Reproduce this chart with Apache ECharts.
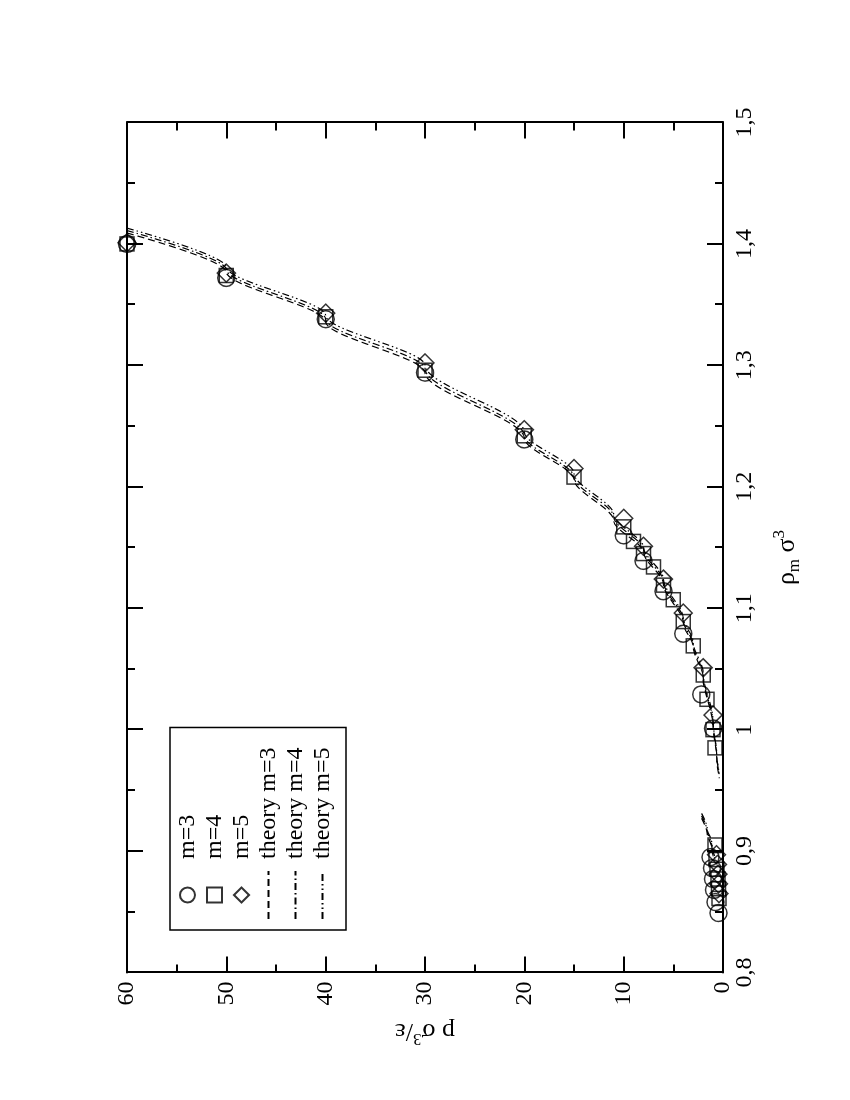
<!DOCTYPE html>
<html><head><meta charset="utf-8">
<script src="https://cdn.jsdelivr.net/npm/echarts@6.0.0/dist/echarts.min.js"></script>
<style>
html,body{margin:0;padding:0;background:#fff;width:850px;height:1100px;overflow:hidden;}
#chart{position:absolute;left:-125px;top:125px;width:1100px;height:850px;transform:rotate(-90deg);}
</style></head><body><div id="chart"></div>
<script>
// ---- data (x: rho_m sigma^3, y: p sigma^3/epsilon) ----
const xTickLabels = ['0,8','0,9','1','1,1','1,2','1,3','1,4','1,5'];
const yTickLabels = ['0','10','20','30','40','50','60'];

const pM3   = [60, 50, 40, 30, 20, 10, 8, 6, 4, 2.2, 1.0, 1.25, 1.1, 1.0, 0.9, 0.75, 0.45];
const rhoM3 = [1.400, 1.372, 1.338, 1.294, 1.239, 1.160, 1.139, 1.114, 1.079, 1.029, 1.001, 0.895, 0.886, 0.877, 0.868, 0.858, 0.849];

const pM4   = [60, 50, 40, 30, 20, 15, 10, 9, 8, 7, 6, 5, 4, 3, 2, 1.6, 1.0, 0.8, 0.8, 0.7, 0.6, 0.5, 0.45, 0.4];
const rhoM4 = [1.400, 1.374, 1.340, 1.296, 1.242, 1.208, 1.167, 1.155, 1.145, 1.134, 1.119, 1.107, 1.089, 1.069, 1.045, 1.025, 1.000, 0.985, 0.905, 0.893, 0.885, 0.877, 0.869, 0.861];

const pM5   = [60, 50, 40, 30, 20, 15, 10, 8, 6, 4, 2, 1.0, 0.65, 0.55, 0.5, 0.45, 0.4];
const rhoM5 = [1.401, 1.376, 1.343, 1.302, 1.247, 1.215, 1.174, 1.151, 1.124, 1.096, 1.051, 1.012, 0.897, 0.889, 0.881, 0.873, 0.865];

const theoryP    = [60, 50, 40, 30, 20, 15, 11, 8, 6, 4, 3, 2, 1, 0.63, 0.37];
const theoryRho3 = [1.409, 1.377, 1.336, 1.294, 1.240, 1.206, 1.172, 1.146, 1.120, 1.088, 1.068, 1.043, 1.003, 0.976, 0.960];
const theoryRho4 = [1.411, 1.379, 1.338, 1.297, 1.242, 1.208, 1.175, 1.148, 1.122, 1.090, 1.070, 1.045, 1.005, 0.978, 0.962];
const theoryRho5 = [1.413, 1.381, 1.341, 1.300, 1.245, 1.211, 1.177, 1.150, 1.124, 1.092, 1.072, 1.047, 1.007, 0.980, 0.963];

const theoryLowP    = [2.15, 1.6, 1.15, 0.85];
const theoryLowRho3 = [0.927, 0.915, 0.903, 0.892];
const theoryLowRho4 = [0.929, 0.917, 0.905, 0.894];
const theoryLowRho5 = [0.931, 0.919, 0.907, 0.896];

// ---- chart ----
const FONT = "'Liberation Serif', 'Times New Roman', Times, serif";
const pairs = (xs, ys) => xs.map((x, i) => [x, ys[i]]);

const SQUARE = 'path://M0,0L10,0L10,10L0,10Z';
const DIAMOND = 'path://M5,0L10,5L5,10L0,5Z';

const markerStyle = {color: 'transparent', borderColor: '#000', borderWidth: 1.5};
function scatter(name, sym, size, rho, p) {
  return {type: 'scatter', name, symbol: sym, symbolSize: size, symbolKeepAspect: true,
          itemStyle: markerStyle, data: pairs(rho, p), z: 3};
}
function theory(name, dash, rho, p) {
  return {type: 'line', name, symbol: 'none', smooth: 0.3, smoothMonotone: 'x',
          itemStyle: {color: 'transparent', borderColor: 'transparent'},
          lineStyle: {color: '#000', width: 1.2, type: dash}, data: pairs(rho, p), z: 2};
}

const dash3 = [7, 4];
const dash4 = [7, 3, 1.5, 3];
const dash5 = [7, 3, 1.5, 3, 1.5, 3];

const tick = {inside: true, length: 16, lineStyle: {color: '#000', width: 2}};
const minor = {show: true, splitNumber: 2, length: 8, lineStyle: {color: '#000', width: 2}};
const line = {show: true, onZero: false, lineStyle: {color: '#000', width: 2}};

const richName = {
  a: {fontFamily: FONT, fontSize: 26, color: '#000', lineHeight: 32},
  sub: {fontFamily: FONT, fontSize: 17, color: '#000', lineHeight: 17, verticalAlign: 'bottom'},
  sup: {fontFamily: FONT, fontSize: 17, color: '#000', lineHeight: 17, verticalAlign: 'top'}
};

const chart = echarts.init(document.getElementById('chart'), null, {width: 1100, height: 850});
chart.setOption({
  animation: false,
  backgroundColor: '#fff',
  grid: {left: 127.5, right: 122.5, top: 127, bottom: 127, containLabel: false},
  xAxis: [
    {type: 'value', min: 0.8, max: 1.5, interval: 0.1, position: 'bottom',
     axisLine: line, axisTick: tick, minorTick: minor, splitLine: {show: false},
     axisLabel: {fontFamily: FONT, fontSize: 24, color: '#000', margin: 10,
                 formatter: v => xTickLabels[Math.round((v - 0.8) / 0.1)]},
     name: '{a|ρ}{sub|m}{a| σ}{sup|3}', nameLocation: 'middle', nameGap: 48,
     nameTextStyle: {rich: richName, padding: [0, 20, 0, 0]}},
    {type: 'value', min: 0.8, max: 1.5, interval: 0.1, position: 'top',
     axisLine: line, axisTick: tick, minorTick: minor, splitLine: {show: false},
     axisLabel: {show: false}}
  ],
  yAxis: [
    {type: 'value', min: 0, max: 60, interval: 10, position: 'left',
     axisLine: line, axisTick: tick, minorTick: minor, splitLine: {show: false},
     axisLabel: {fontFamily: FONT, fontSize: 24, color: '#000', margin: 9,
                 formatter: v => yTickLabels[Math.round(v / 10)]},
     name: '{a|p σ}{sup|3}{a|/ε}', nameLocation: 'middle', nameRotate: 90, nameGap: 42,
     nameTextStyle: {rich: richName}},
    {type: 'value', min: 0, max: 60, interval: 10, position: 'right',
     axisLine: line, axisTick: tick, minorTick: minor, splitLine: {show: false},
     axisLabel: {show: false}}
  ],
  legend: {
    orient: 'vertical', left: 170, top: 170,
    itemWidth: 48, itemHeight: 15, itemGap: 0, symbolKeepAspect: true,
    padding: [4, 20, 10, 10],
    borderColor: '#000', borderWidth: 1.5, backgroundColor: '#fff',
    textStyle: {fontFamily: FONT, fontSize: 24, color: '#000', lineHeight: 27, padding: [0, 0, 0, 7]},
    data: [
      {name: 'm=3', icon: 'circle'},
      {name: 'm=4', icon: SQUARE},
      {name: 'm=5', icon: DIAMOND},
      'theory m=3', 'theory m=4', 'theory m=5'
    ]
  },
  series: [
    scatter('m=3', 'circle', 17, rhoM3, pM3),
    scatter('m=4', SQUARE, 14, rhoM4, pM4),
    scatter('m=5', DIAMOND, 18, rhoM5, pM5),
    theory('theory m=3', dash3, theoryRho3, theoryP),
    theory('theory m=4', dash4, theoryRho4, theoryP),
    theory('theory m=5', dash5, theoryRho5, theoryP),
    theory('theory m=3', dash3, theoryLowRho3, theoryLowP),
    theory('theory m=4', dash4, theoryLowRho4, theoryLowP),
    theory('theory m=5', dash5, theoryLowRho5, theoryLowP)
  ]
});
</script></body></html>
